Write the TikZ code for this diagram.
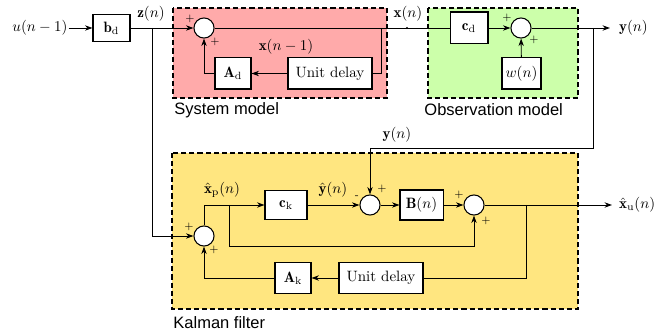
\documentclass[tikz,border=0pt]{standalone}
\usepackage{fontspec}
\newfontfamily\labfont{Liberation Sans}
\usetikzlibrary{arrows.meta}
\definecolor{sysfill}{RGB}{255,170,170}
\definecolor{obsfill}{RGB}{204,255,170}
\definecolor{kalfill}{RGB}{255,230,128}
\begin{document}
\begin{tikzpicture}[x=0.6667pt,y=-0.6667pt,
  line width=0.6pt,
  arr/.style={-{Stealth[length=5pt,width=3.6pt]}},
  blk/.style={draw,fill=white,inner sep=0pt,line width=0.7pt},
  sumc/.style={draw,circle,fill=white,minimum size=13.4pt,inner sep=0pt,line width=0.7pt},
  region/.style={draw,dash pattern=on 3.4pt off 2pt,line width=0.7pt},
  sgn/.style={font=\scriptsize,inner sep=0pt},
  lab/.style={font=\labfont\fontsize{11}{13}\selectfont,anchor=west,inner sep=0pt},
  txt/.style={inner sep=0.5pt}]
\useasboundingbox (0,0) rectangle (671,335);
% regions
\path[region,fill=sysfill] (173,8) rectangle (387,98);
\path[region,fill=obsfill] (428,8) rectangle (578,98);
\path[region,fill=kalfill] (172,153) rectangle (578,309);
\node[lab] (sysl) at (174,110) {System model};
\node[lab] (obsl) at (424,110) {Observation model};
\node[lab] (kall) at (173,323) {Kalman filter};
% top row
\node[txt] (u) at (40,28) {$u(n-1)$};
\node[blk,minimum width=24.7pt,minimum height=18pt] (bd) at (111.5,28) {$\mathbf{b}_\mathrm{d}$};
\node[sumc] (s1) at (204,28) {};
\node[blk,minimum width=56pt,minimum height=20.7pt] (ud1) at (330,73.5) {Unit delay};
\node[blk,minimum width=24pt,minimum height=20.7pt] (Ad) at (233,73.5) {$\mathbf{A}_\mathrm{d}$};
\node[blk,minimum width=25.3pt,minimum height=21.3pt] (cd) at (469,28) {$\mathbf{c}_\mathrm{d}$};
\node[sumc] (s2) at (521,28) {};
\node[blk,minimum width=26pt,minimum height=20.7pt] (wn) at (521.5,73.5) {$w(n)$};
\node[txt,anchor=west] (yout) at (618,28) {$\mathbf{y}(n)$};
\node[txt] (zl) at (151,14) {$\mathbf{z}(n)$};
\node[txt] (xl) at (408,14) {$\mathbf{x}(n)$};
\node[txt] (xml) at (286,47) {$\mathbf{x}(n-1)$};
\coordinate (zb) at (152,28);
\coordinate (xr) at (381,28);
\coordinate (xdot) at (407,28);
\coordinate (yb) at (593,28);
% Kalman
\node[sumc] (k1) at (204,236) {};
\node[blk,minimum width=28pt,minimum height=19.3pt] (ck) at (286,205) {$\mathbf{c}_\mathrm{k}$};
\node[sumc] (k2) at (370,205) {};
\node[blk,minimum width=28.7pt,minimum height=20pt] (Bn) at (421.5,205) {$\mathbf{B}(n)$};
\node[sumc] (k3) at (474,205) {};
\node[blk,minimum width=56pt,minimum height=21.3pt] (udk) at (381,278) {Unit delay};
\node[blk,minimum width=24pt,minimum height=21.3pt] (Ak) at (293,278) {$\mathbf{A}_\mathrm{k}$};
\node[txt,anchor=west] (xu) at (618,205) {$\hat{\mathbf{x}}_\mathrm{u}(n)$};
\node[txt] (yl) at (397,135) {$\mathbf{y}(n)$};
\node[txt] (xpl) at (222,190) {$\hat{\mathbf{x}}_\mathrm{p}(n)$};
\node[txt] (yhl) at (333,190) {$\hat{\mathbf{y}}(n)$};
\coordinate (yc) at (370,148);
\coordinate (xpb) at (229,205);
\coordinate (xc) at (474,246);
\coordinate (kb) at (526,205);
\coordinate (xuend) at (612,205);
\coordinate (yend) at (610,28);
% signs
\node[sgn] (p1a) at (190,19) {$+$};
\node[sgn] (p1b) at (215,42) {$+$};
\node[sgn] (p2a) at (507,18) {$+$};
\node[sgn] (p2b) at (534,40) {$+$};
\node[sgn] (pk1a) at (189,227) {$+$};
\node[sgn] (pk1b) at (214,250) {$+$};
\node[sgn] (mk2) at (357,197) {-};
\node[sgn] (pk2) at (382,189) {$+$};
\node[sgn] (pk3a) at (459,195) {$+$};
\node[sgn] (pk3b) at (486,221) {$+$};
% connectors top
\draw[arr] (u) -- (bd);
\draw[arr] (bd) -- (s1);
\draw (s1) -- (cd);
\draw (xr) |- (ud1);
\draw[arr] (ud1) -- (Ad);
\draw[arr] (Ad) -| (s1);
\fill (xdot) circle (0.7pt);
\draw[arr] (cd) -- (s2);
\draw[arr] (wn) -- (s2);
\draw[arr] (s2) -- (yend);
\draw[arr] (yb) |- (yc) -- (k2);
\draw[arr] (zb) |- (k1);
% connectors Kalman
\draw[arr] (k1) |- (ck);
\draw[arr] (ck) -- (k2);
\draw[arr] (k2) -- (Bn);
\draw[arr] (Bn) -- (k3);
\draw[arr] (k3) -- (xuend);
\draw[arr] (xpb) |- (xc) -- (k3);
\draw (kb) |- (udk);
\draw[arr] (udk) -- (Ak);
\draw[arr] (Ak) -| (k1);
\end{tikzpicture}
\end{document}
